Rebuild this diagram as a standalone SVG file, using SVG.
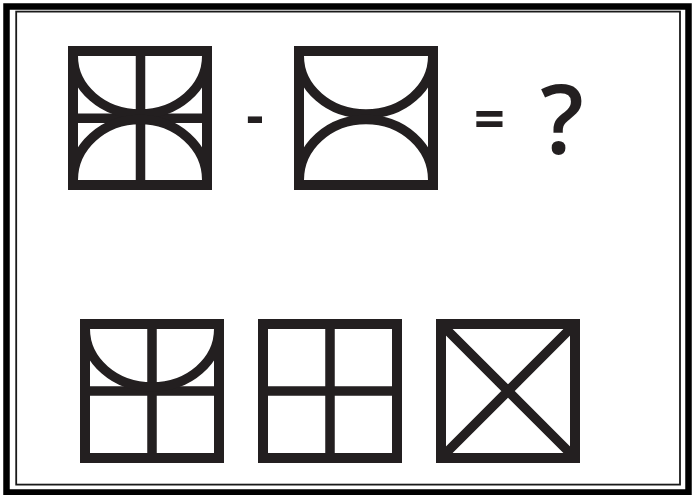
<svg xmlns="http://www.w3.org/2000/svg" width="694" height="495" viewBox="0 0 694 495">
<style>
.fr{fill:none;stroke:#231f20;stroke-width:10}
.ln{fill:none;stroke:#231f20;stroke-width:9.5}
.op{font-family:"Open Sans","Noto Sans",sans-serif;fill:#231f20;text-anchor:middle}
</style>
<rect x="0" y="0" width="694" height="495" fill="#fff"/>
<rect id="border-outer" x="6.5" y="6.5" width="682" height="486" fill="none" stroke="#000" stroke-width="6.5"/>
<rect id="border-inner" x="16.2" y="11.6" width="663.8" height="473" fill="none" stroke="#1a1a1a" stroke-width="1.8"/>

<g id="fig-a">
<path class="ln" d="M140.5,51V185M73,118.3H207"/>
<path class="ln" d="M73.25,56A66.75,58 0 0 0 206.75,56"/>
<path class="ln" d="M73.25,180A66.75,60.5 0 0 1 206.75,180"/>
<rect class="fr" x="73" y="51" width="134" height="134"/>
</g>

<g id="op-minus"><text class="op" x="255" y="134" font-size="54" font-weight="700">-</text></g>

<g id="fig-b">
<path class="ln" d="M299.25,56A66.75,58 0 0 0 432.75,56"/>
<path class="ln" d="M299.25,180A66.75,60.5 0 0 1 432.75,180"/>
<rect class="fr" x="299" y="51" width="134" height="134"/>
</g>

<g id="op-equals"><text class="op" x="489.5" y="138" font-size="54" font-weight="700">=</text></g>
<g id="op-question"><text class="op" x="562" y="153.5" font-size="96" font-weight="600">?</text></g>

<g id="opt-1">
<path class="ln" d="M152,324V458M85,391H219"/>
<path class="ln" d="M85.25,329A66.75,58 0 0 0 218.75,329"/>
<rect class="fr" x="85" y="324" width="134" height="134"/>
</g>

<g id="opt-2">
<path class="ln" d="M330,324V458M263,391H397"/>
<rect class="fr" x="263" y="324" width="134" height="134"/>
</g>

<g id="opt-3">
<path class="ln" d="M446,329L570,453M570,329L446,453"/>
<rect class="fr" x="441" y="324" width="134" height="134"/>
</g>
<g id="connectors"/>
</svg>
